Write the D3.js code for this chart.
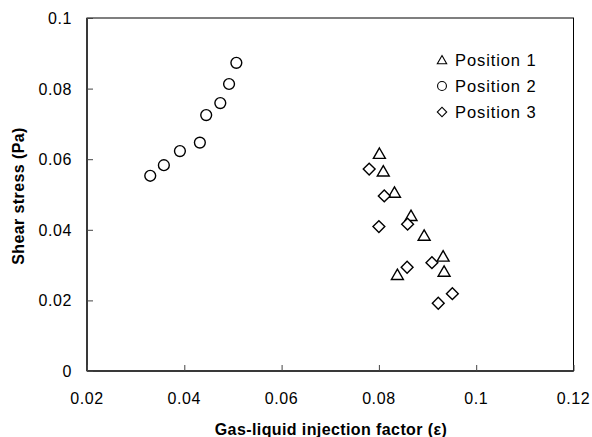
<!DOCTYPE html>
<html>
<head>
<meta charset="utf-8">
<script src="https://cdn.jsdelivr.net/npm/d3@7"></script>
<style>
  html, body { margin: 0; padding: 0; background: #fff; }
  svg { display: block; font-family: "Liberation Sans", Arial, sans-serif; }
  .tick-label { font-size: 16px; letter-spacing: 0.6px; fill: #000; }
  .axis-title { font-size: 16px; font-weight: bold; letter-spacing: 0.4px; fill: #000; }
  .legend-label { font-size: 16.5px; letter-spacing: 0.9px; fill: #000; }
</style>
</head>
<body>
<svg id="chart" width="592" height="437"></svg>
<script>
// Shear stress vs gas-liquid injection factor, three positions
const pos1X = [0.0801, 0.0809, 0.0832, 0.0866, 0.0893, 0.0838, 0.0932, 0.0934];
const pos1Y = [0.0615, 0.0565, 0.0505, 0.0439, 0.0383, 0.0272, 0.0324, 0.0281];

const pos2X = [0.0330, 0.0358, 0.0391, 0.0432, 0.0445, 0.0474, 0.0492, 0.0507];
const pos2Y = [0.0553, 0.0583, 0.0623, 0.0647, 0.0725, 0.0759, 0.0813, 0.0873];

const pos3X = [0.0780, 0.0811, 0.0800, 0.0859, 0.0858, 0.0909, 0.0922, 0.0951];
const pos3Y = [0.0572, 0.0496, 0.0409, 0.0416, 0.0294, 0.0307, 0.0192, 0.0219];

const xTicks = [0.02, 0.04, 0.06, 0.08, 0.1, 0.12];
const yTicks = [0, 0.02, 0.04, 0.06, 0.08, 0.1];

const seriesNames = ["Position 1", "Position 2", "Position 3"];

(function () {
  "use strict";

  const svg = d3.select("#chart");
  const L = 87, R = 573.5, T = 18, B = 371;

  const x = d3.scaleLinear().domain([0.02, 0.12]).range([L, R]);
  const y = d3.scaleLinear().domain([0, 0.1]).range([B, T]);

  // marker shapes: triangle, circle, diamond (square turned 45°)
  const shapes = [d3.symbolTriangle, d3.symbolCircle, d3.symbolSquare];
  const rot = [0, 0, 45];
  const sizes = [62, 92, 70];
  const legendSizes = [38, 62, 44];

  // frame
  svg.append("rect")
    .attr("x", L).attr("y", T)
    .attr("width", R - L).attr("height", B - T)
    .attr("fill", "none")
    .attr("stroke", "#000")
    .attr("stroke-width", 1);
  // heavier left/bottom axes
  svg.append("line").attr("x1", L).attr("x2", L).attr("y1", T).attr("y2", B)
    .attr("stroke", "#222").attr("stroke-width", 1.5);
  svg.append("line").attr("x1", L).attr("x2", R).attr("y1", B).attr("y2", B)
    .attr("stroke", "#222").attr("stroke-width", 1.5);

  // inward ticks
  const xAxis = d3.axisBottom(x).tickValues(xTicks).tickSize(-6).tickFormat("");
  const gx = svg.append("g").attr("transform", "translate(0," + B + ")").call(xAxis);
  gx.select(".domain").remove();
  gx.selectAll(".tick line").attr("stroke", "#444");

  const yAxis = d3.axisLeft(y).tickValues(yTicks).tickSize(-6).tickFormat("");
  const gy = svg.append("g").attr("transform", "translate(" + L + ",0)").call(yAxis);
  gy.select(".domain").remove();
  gy.selectAll(".tick line").attr("stroke", "#444");

  // tick labels
  svg.selectAll(".xl").data(xTicks).enter().append("text")
    .attr("class", "tick-label")
    .attr("x", d => x(d)).attr("y", 404)
    .attr("text-anchor", "middle")
    .text(d => String(d));

  svg.selectAll(".yl").data(yTicks).enter().append("text")
    .attr("class", "tick-label")
    .attr("x", 72).attr("y", d => y(d) + 6)
    .attr("text-anchor", "end")
    .text(d => String(d));

  // axis titles
  svg.append("text").attr("class", "axis-title")
    .attr("x", 331).attr("y", 435)
    .attr("text-anchor", "middle")
    .text("Gas-liquid injection factor (\u03b5)");

  svg.append("text").attr("class", "axis-title")
    .attr("transform", "translate(24,196) rotate(-90)")
    .attr("text-anchor", "middle")
    .text("Shear stress (Pa)");

  // points
  const series = [
    { xs: pos1X, ys: pos1Y },
    { xs: pos2X, ys: pos2Y },
    { xs: pos3X, ys: pos3Y }
  ];

  series.forEach(function (s, i) {
    const pts = s.xs.map((v, k) => [v, s.ys[k]]);
    svg.append("g").selectAll("path").data(pts).enter().append("path")
      .attr("d", d3.symbol().type(shapes[i]).size(sizes[i]))
      .attr("transform", d => {
        const dy = i === 0 ? 1 : 0; // centre triangle on its box
        return "translate(" + x(d[0]) + "," + (y(d[1]) + dy) + ") rotate(" + rot[i] + ")";
      })
      .attr("fill", "#fff")
      .attr("stroke", "#000")
      .attr("stroke-width", 1.4);
  });

  // legend
  const lg = svg.append("g");
  seriesNames.forEach(function (name, i) {
    const ly = 60 + i * 26;
    lg.append("path")
      .attr("d", d3.symbol().type(shapes[i]).size(legendSizes[i]))
      .attr("transform", "translate(442," + (ly + (i === 0 ? 1 : 0)) + ") rotate(" + rot[i] + ")")
      .attr("fill", "#fff")
      .attr("stroke", "#000")
      .attr("stroke-width", 1.1);
    lg.append("text")
      .attr("class", "legend-label")
      .attr("x", 455).attr("y", ly + 6)
      .text(name);
  });
})();
</script>
</body>
</html>
